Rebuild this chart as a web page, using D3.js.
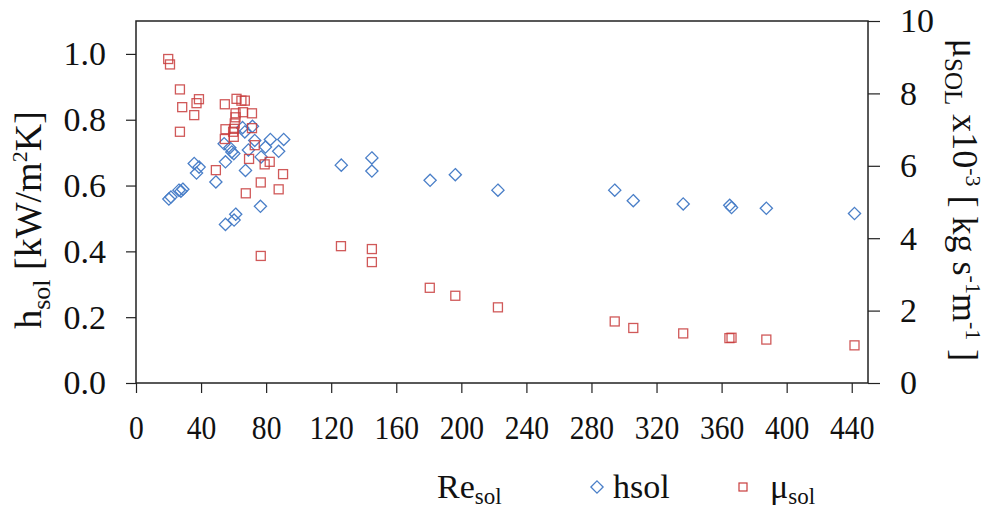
<!DOCTYPE html>
<html><head><meta charset="utf-8">
<script src="https://cdn.jsdelivr.net/npm/d3@7"></script>
<style>
body{margin:0;background:#fff;}
svg text, svg tspan, svg .tick text {font-family:'Liberation Serif' !important;}
</style></head>
<body><svg id="c" width="986" height="508"></svg>
<script>
// h_sol series (Re_sol, h_sol in kW/m2K)
const hRe = [20.2,21.5,26.4,27.6,28.8,35.8,38.8,37.2,49.1,55.0,60.3,61.3,76.5,55.0,67.3,54.2,57.7,58.9,60.1,65.5,71.6,66.9,69.1,73.0,76.9,79.6,82.6,90.8,87.7,
  126.2,145.0,145.0,180.8,196.3,222.5,294.3,305.7,336.4,365.0,366.1,387.5,441.7];
const hVal = [0.559,0.565,0.586,0.583,0.589,0.667,0.656,0.638,0.611,0.482,0.495,0.513,0.537,0.672,0.646,0.727,0.715,0.702,0.697,0.776,0.780,0.763,0.708,0.737,0.687,0.717,0.740,0.740,0.704,
  0.662,0.684,0.644,0.616,0.633,0.586,0.586,0.554,0.544,0.540,0.533,0.531,0.515];
// mu_sol series (Re_sol, mu x10^-3)
const muRe = [19.8,20.9,27.0,28.4,38.7,37.2,35.8,27.0,54.6,61.8,64.8,66.9,65.8,71.3,61.2,61.2,60.7,60.3,55.0,59.7,60.1,54.6,71.3,73.0,69.5,49.1,79.1,82.2,90.4,76.7,87.7,67.5,76.7,
  126.0,145.0,145.0,180.6,196.3,222.5,294.3,305.7,336.4,364.8,366.1,387.5,441.7];
const muVal = [8.95,8.80,8.11,7.62,7.84,7.73,7.40,6.94,7.70,7.85,7.80,7.80,7.48,7.45,7.45,7.34,7.17,7.02,7.01,6.94,6.80,6.74,7.04,6.57,6.19,5.88,6.04,6.11,5.77,5.54,5.35,5.24,3.51,
  3.78,3.70,3.34,2.63,2.41,2.09,1.70,1.52,1.37,1.24,1.25,1.20,1.04];
const xTicks = [0,40,80,120,160,200,240,280,320,360,400,440];
const yTicksL = [0,0.2,0.4,0.6,0.8,1.0];
const yTicksR = [0,2,4,6,8,10];

const svg = d3.select("#c");
const L=136, R=868, T=21, B=383;
const x = d3.scaleLinear().domain([0,450]).range([L,R]);
const yL = d3.scaleLinear().domain([0,1.1]).range([B,T]);
const yR = d3.scaleLinear().domain([0,10]).range([B,T]);
const blue="#4a7fc8", red="#c83c3c";

svg.append("rect").attr("x",L).attr("y",T).attr("width",R-L).attr("height",B-T)
  .attr("fill","none").attr("stroke","#222").attr("stroke-width",1.5);

const gx = svg.append("g").attr("transform",`translate(0,${B})`)
  .call(d3.axisBottom(x).tickValues(xTicks).tickSize(10).tickPadding(22).tickFormat(d3.format("d")));
const gl = svg.append("g").attr("transform",`translate(${L},0)`)
  .call(d3.axisLeft(yL).tickValues(yTicksL).tickSize(10).tickPadding(20).tickFormat(d3.format(".1f")));
const gr = svg.append("g").attr("transform",`translate(${R},0)`)
  .call(d3.axisRight(yR).tickValues(yTicksR).tickSize(12).tickPadding(20).tickFormat(d3.format("d")));
[gx,gl,gr].forEach(g=>{
  g.attr("font-family","Liberation Serif").attr("font-size",34);
  g.select(".domain").remove();
  g.selectAll(".tick line").attr("stroke","#222").attr("stroke-width",1.2);
  g.selectAll("text").attr("fill","#111");
});
gx.selectAll("text").attr("transform","scale(0.87,1)");

const diamond = d3.symbol().type(d3.symbolDiamond2).size(95);
svg.append("g").selectAll("path").data(hRe.map((r,i)=>[r,hVal[i]])).join("path")
  .attr("d",diamond).attr("transform",d=>`translate(${x(d[0])},${yL(d[1])})`)
  .attr("fill","none").attr("stroke",blue).attr("stroke-width",1.3);
svg.append("g").selectAll("rect").data(muRe.map((r,i)=>[r,muVal[i]])).join("rect")
  .attr("x",d=>x(d[0])-4.5).attr("y",d=>yR(d[1])-4.5).attr("width",9).attr("height",9)
  .attr("fill","none").attr("stroke",red).attr("stroke-width",1.3).attr("stroke-opacity",0.85);

function T0(sel){ return sel.attr("font-family","Liberation Serif").attr("fill","#111"); }

const lt = T0(svg.append("text")).attr("transform","translate(41,220) rotate(-90)")
  .attr("text-anchor","middle").attr("font-size",38);
lt.append("tspan").text("h");
lt.append("tspan").text("sol").attr("font-size",26).attr("dy","9");
lt.append("tspan").text(" [kW/m").attr("dy","-9");
lt.append("tspan").text("2").attr("font-size",22).attr("dy","-14");
lt.append("tspan").text("K]").attr("dy","14");

const rt = T0(svg.append("text")).attr("transform","translate(953,200) rotate(90)")
  .attr("text-anchor","middle").attr("font-size",36);
rt.append("tspan").text("μ");
rt.append("tspan").text("SOL").attr("font-size",25).attr("dy","8");
rt.append("tspan").text(" x10").attr("dy","-8");
rt.append("tspan").text("-3").attr("font-size",22).attr("dy","-13");
rt.append("tspan").text("  [ kg s").attr("dy","13");
rt.append("tspan").text("-1").attr("font-size",22).attr("dy","-13");
rt.append("tspan").text("m").attr("dy","13");
rt.append("tspan").text("-1").attr("font-size",22).attr("dy","-13");
rt.append("tspan").text(" ]").attr("dy","13");

const xt = T0(svg.append("text")).attr("x",437).attr("y",498).attr("font-size",34);
xt.append("tspan").text("Re");
xt.append("tspan").text("sol").attr("font-size",23).attr("dy","6");

svg.append("path").attr("d",diamond).attr("transform","translate(597,487)")
  .attr("fill","none").attr("stroke",blue).attr("stroke-width",1.3);
T0(svg.append("text")).attr("x",613).attr("y",498).attr("font-size",34).text("hsol");
svg.append("rect").attr("x",739).attr("y",483).attr("width",8).attr("height",8)
  .attr("fill","none").attr("stroke",red).attr("stroke-width",1.2);
const lm = T0(svg.append("text")).attr("x",770).attr("y",498).attr("font-size",34);
lm.append("tspan").text("μ");
lm.append("tspan").text("sol").attr("font-size",23).attr("dy","6");
</script></body></html>
